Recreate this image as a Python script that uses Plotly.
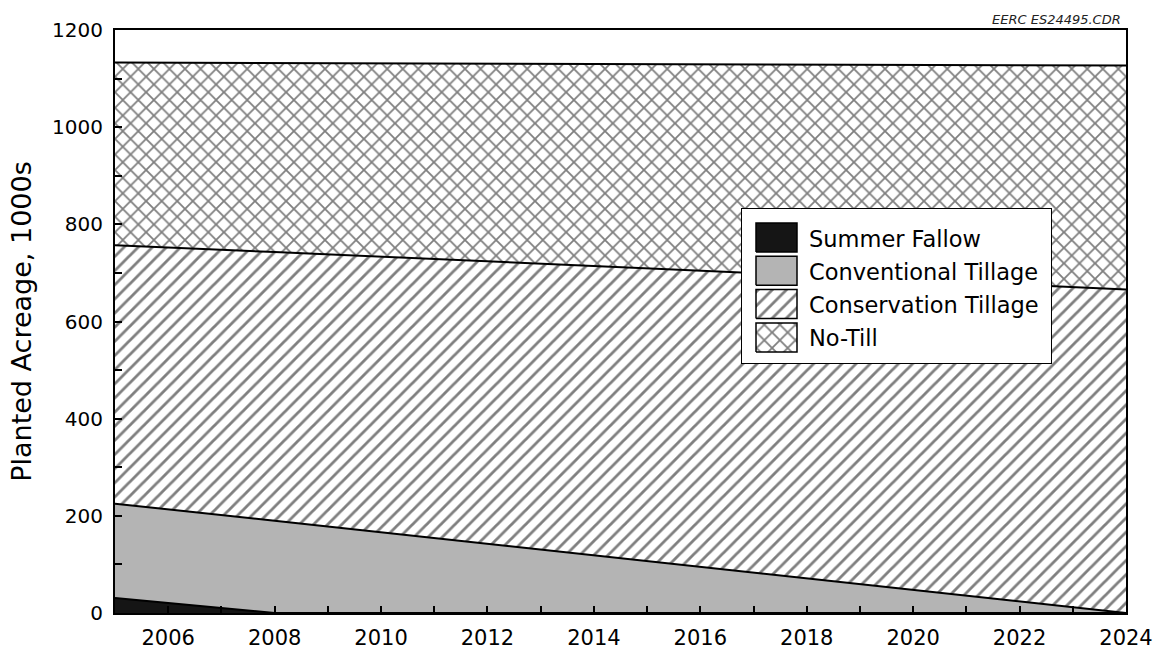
import plotly.graph_objects as go

# ---- data ----
years = [2005, 2008, 2024]
summer_fallow = [31, 0, 0]
conventional_tillage = [194, 190, 0]
conservation_tillage = [532, 553, 666]
no_till = [376, 389, 461]

series_names = ["Summer Fallow", "Conventional Tillage", "Conservation Tillage", "No-Till"]
series_values = [summer_fallow, conventional_tillage, conservation_tillage, no_till]

x_ticks = list(range(2006, 2025, 2))
y_ticks = list(range(0, 1201, 200))

# ---- styles ----
FONT = "DejaVu Sans, Liberation Sans, Arial, sans-serif"
styles = [
    dict(fillcolor="#151515"),
    dict(fillcolor="#b4b4b4"),
    dict(fillcolor="white", fillpattern=dict(shape="/", size=10, solidity=0.28,
                                             fgcolor="black", bgcolor="white")),
    dict(fillcolor="white", fillpattern=dict(shape="x", size=11, solidity=0.3,
                                             fgcolor="black", bgcolor="white")),
]

fig = go.Figure()
for name, vals, st in zip(series_names, series_values, styles):
    fig.add_trace(go.Scatter(x=years, y=vals, name=name, mode="lines", stackgroup="one",
                             line=dict(color="black", width=2), showlegend=False,
                             hoverinfo="x+y+name", **st))

# ---- custom legend (box geometry in legend-local pixel units) ----
W, H = 1159, 650
PL, PR, PT, PB = 115, 1126, 30, 613
BX0, BX1, BY0, BY1 = 741, 1052, 208, 364
bw, bh = BX1 - BX0, BY1 - BY0
fig.add_trace(go.Scatter(x=[0, bw, bw, 0, 0], y=[0, 0, bh, bh, 0], mode="lines",
                         fill="toself", fillcolor="white", line=dict(color="black", width=2),
                         xaxis="x2", yaxis="y2", showlegend=False, hoverinfo="skip"))
sw_x0, sw_x1 = 15, 56
for i, (name, st) in enumerate(zip(series_names, styles)):
    top = bh - (15 + 33.3 * i)
    bot = top - 29
    fig.add_trace(go.Scatter(x=[sw_x0, sw_x1, sw_x1, sw_x0, sw_x0], y=[bot, bot, top, top, bot],
                             mode="lines", fill="toself", line=dict(color="black", width=1.5),
                             xaxis="x2", yaxis="y2", showlegend=False, hoverinfo="skip", **st))
    fig.add_annotation(x=66, y=(top + bot) / 2 - 1, xref="x2", yref="y2", text=name,
                       showarrow=False, xanchor="left", yanchor="middle",
                       font=dict(size=22.5, family=FONT, color="black"))

fig.add_annotation(text="<i>EERC ES24495.CDR</i>", x=(1123 - PL) / (PR - PL), y=1.0,
                   xref="paper", yref="paper", xanchor="right", yanchor="bottom", yshift=1,
                   showarrow=False, font=dict(size=13, family=FONT, color="#222"))

fig.update_layout(
    width=W, height=H,
    margin=dict(l=PL, r=W - PR, t=PT, b=H - PB, autoexpand=False),
    paper_bgcolor="white", plot_bgcolor="white",
    font=dict(family=FONT, color="black", size=20),
    showlegend=False,
    xaxis2=dict(domain=[(BX0 - PL) / (PR - PL), (BX1 - PL) / (PR - PL)], range=[0, bw],
                visible=False, anchor="y2", fixedrange=True, automargin=False),
    yaxis2=dict(domain=[(PB - BY1) / (PB - PT), (PB - BY0) / (PB - PT)], range=[0, bh],
                visible=False, anchor="x2", fixedrange=True, automargin=False),
)
tick_common = dict(ticks="inside", ticklen=7, tickwidth=1.5, tickcolor="black",
                   showgrid=False, zeroline=False, showline=True, linecolor="black",
                   linewidth=2, mirror=True, automargin=False)
fig.layout.xaxis.update(range=[2005, 2024], tickvals=x_ticks, ticklabelstandoff=5,
                        minor=dict(dtick=1, tick0=2005, ticks="inside", ticklen=7,
                                   tickwidth=1.5, tickcolor="black"),
                        tickfont=dict(size=21), domain=[0, 1], **tick_common)
fig.layout.yaxis.update(range=[0, 1200], tickvals=y_ticks, ticklabelstandoff=6,
                        minor=dict(dtick=100, tick0=0, ticks="inside", ticklen=7,
                                   tickwidth=1.5, tickcolor="black"),
                        tickfont=dict(size=20), domain=[0, 1],
                        title=dict(text="Planted Acreage, 1000s", font=dict(size=27),
                                   standoff=13),
                        **tick_common)

fig.write_html("out.html")
